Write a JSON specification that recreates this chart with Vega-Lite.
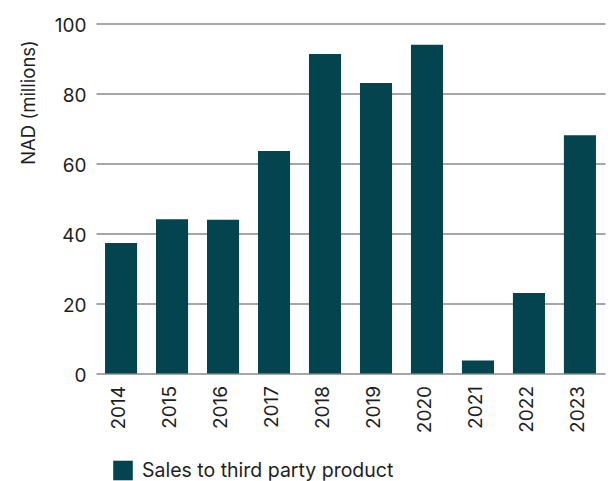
{
  "$schema": "https://vega.github.io/schema/vega-lite/v6.json",
  "width": 509,
  "height": 350,
  "autosize": "none",
  "padding": {"left": 96, "top": 23.5, "right": 3, "bottom": 107.5},
  "background": "white",
  "config": {
    "view": {"stroke": null},
    "font": "Inter",
    "axis": {"labelFont": "Inter", "titleFont": "Inter", "labelColor": "#1e1e1e", "titleColor": "#1e1e1e"},
    "legend": {"labelFont": "Inter"}
  },
  "data": {
    "values": [
      {"year": "2014", "value": 37.3, "series": "Sales to third party product"},
      {"year": "2015", "value": 44.1, "series": "Sales to third party product"},
      {"year": "2016", "value": 43.9, "series": "Sales to third party product"},
      {"year": "2017", "value": 63.6, "series": "Sales to third party product"},
      {"year": "2018", "value": 91.3, "series": "Sales to third party product"},
      {"year": "2019", "value": 83.0, "series": "Sales to third party product"},
      {"year": "2020", "value": 93.9, "series": "Sales to third party product"},
      {"year": "2021", "value": 3.7, "series": "Sales to third party product"},
      {"year": "2022", "value": 23.0, "series": "Sales to third party product"},
      {"year": "2023", "value": 68.1, "series": "Sales to third party product"}
    ]
  },
  "mark": {"type": "bar"},
  "encoding": {
    "x": {
      "field": "year",
      "type": "ordinal",
      "scale": {"paddingInner": 0.371, "paddingOuter": 0.177},
      "axis": {
        "title": null,
        "domain": false,
        "ticks": false,
        "labelAngle": -90,
        "labelPadding": 12,
        "labelFontSize": 19,
        "labelOffset": -2
      }
    },
    "y": {
      "field": "value",
      "type": "quantitative",
      "scale": {"domain": [0, 100], "nice": false},
      "axis": {
        "title": "NAD (millions)",
        "values": [0, 20, 40, 60, 80, 100],
        "domain": false,
        "ticks": false,
        "grid": true,
        "gridColor": "#888888",
        "gridWidth": 1.5,
        "gridOpacity": 1,
        "labelPadding": 10,
        "labelFontSize": 19,
        "labelOffset": 2,
        "titleFontSize": 18.5,
        "titleFontWeight": "normal",
        "titleAngle": -90,
        "titleX": -68,
        "titleY": 78.5,
        "titleAlign": "center",
        "titleBaseline": "middle"
      }
    },
    "color": {
      "field": "series",
      "type": "nominal",
      "scale": {"range": ["#03444e"]},
      "legend": {
        "title": null,
        "orient": "none",
        "legendX": 17,
        "legendY": 437,
        "padding": 0,
        "symbolType": "square",
        "symbolSize": 384,
        "symbolStrokeWidth": 0,
        "symbolOpacity": 1,
        "labelFontSize": 19.5,
        "labelLimit": 400,
        "labelColor": "#1e1e1e",
        "labelOffset": 9
      }
    }
  }
}
